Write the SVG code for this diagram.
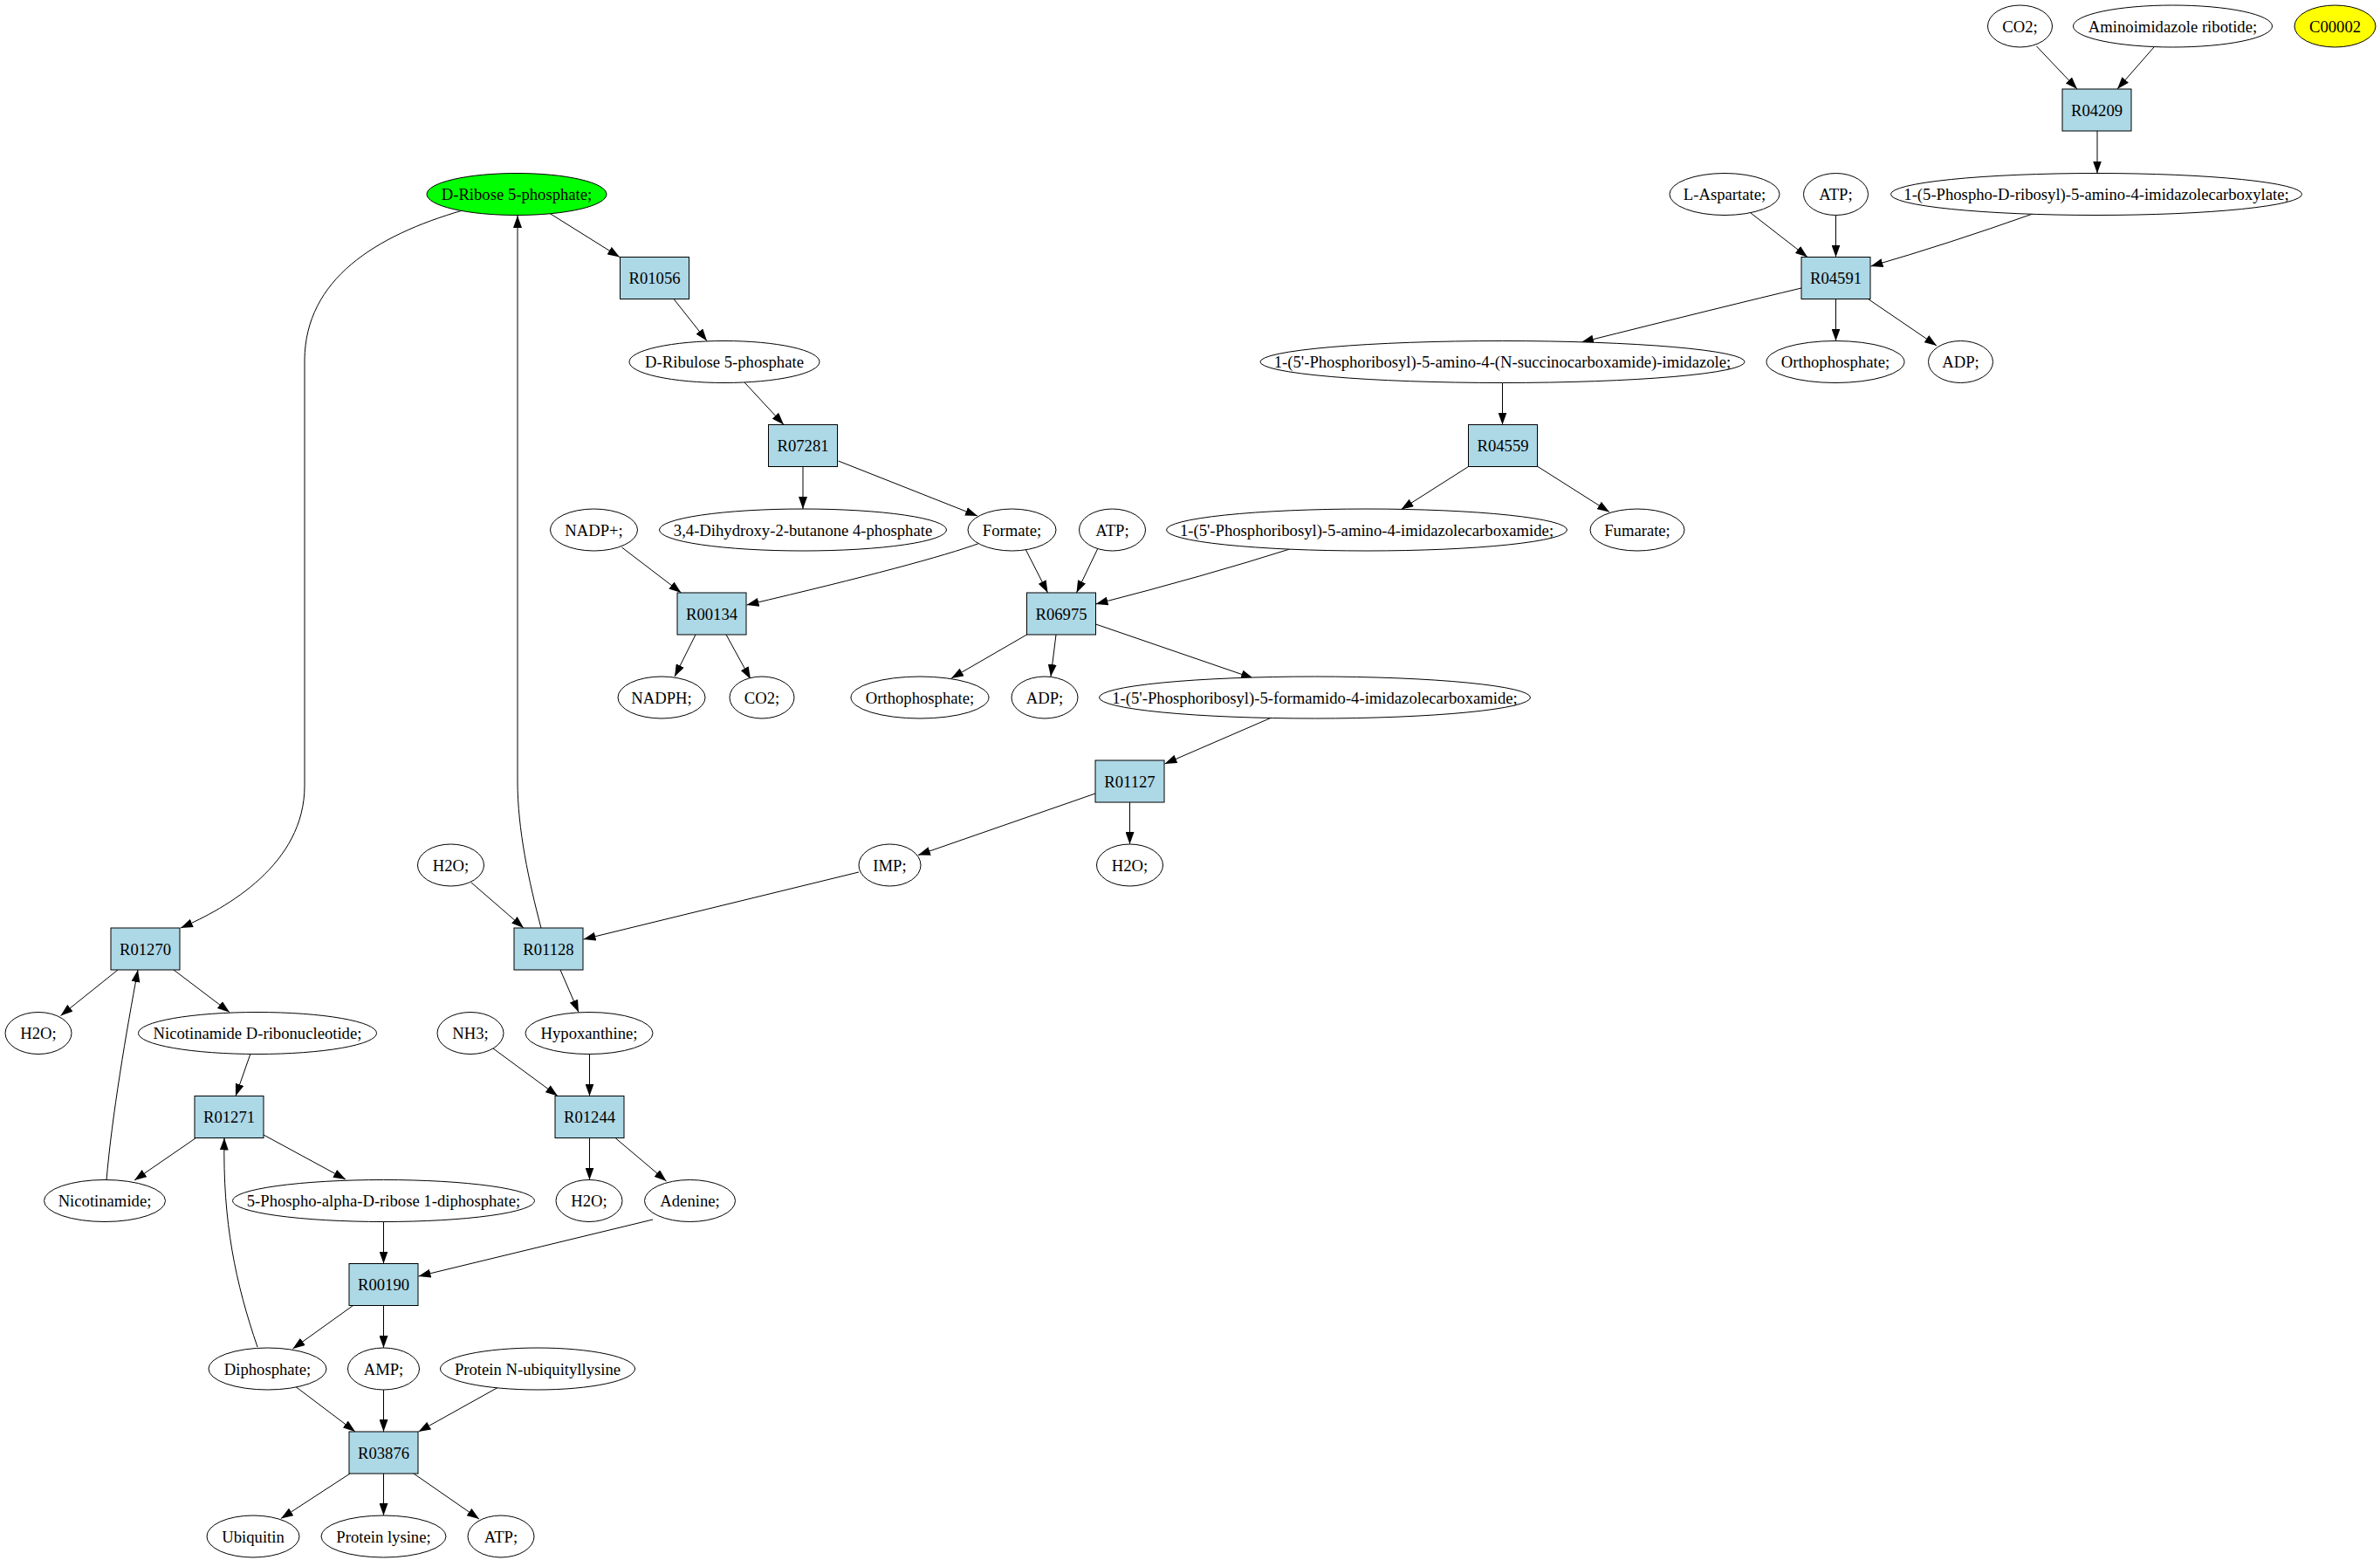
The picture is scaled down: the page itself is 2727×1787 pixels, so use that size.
<svg xmlns="http://www.w3.org/2000/svg" width="2727" height="1787" viewBox="0 0 2727 1787">
<defs>
<marker id="arr" markerUnits="userSpaceOnUse" markerWidth="14" markerHeight="10" refX="14" refY="5" orient="auto"><path d="M0,0 L14,5 L0,10 z" fill="#000"/></marker>
</defs>
<style>
ellipse{fill:#fff;stroke:#000;stroke-width:1}
rect{fill:#add8e6;stroke:#000;stroke-width:1}
text{font-family:"Liberation Serif","Times New Roman",serif;font-size:18.67px;text-anchor:middle;fill:#000}
#edges path{fill:none;stroke:#000;stroke-width:1;marker-end:url(#arr)}
</style>
<rect x="0" y="0" width="2727" height="1787" style="fill:#fff;stroke:none"/>
<g id="edges">
<path d="M2333.5,53 L2380,102"/>
<path d="M2468,54 L2426,102"/>
<path d="M2403,150 L2403,198.5"/>
<path d="M2006,244 L2071,294.5"/>
<path d="M2103.5,246.5 L2103.5,294.5"/>
<path d="M2329,245 Q2230,280 2143.5,305"/>
<path d="M2064,330 Q1980,350 1812,392"/>
<path d="M2103.5,342.5 L2103.5,390.5"/>
<path d="M2140.5,342.5 L2219,396"/>
<path d="M1721.5,438.5 L1721.5,486.5"/>
<path d="M1682.5,534.5 L1605.5,583.5"/>
<path d="M1762,534.5 L1844,586.5"/>
<path d="M630,244.5 L710,294.5"/>
<path d="M772,342.5 L810,390.5"/>
<path d="M853,438 L898,486.5"/>
<path d="M920,534.5 L920,583"/>
<path d="M960.5,528 L1120,591"/>
<path d="M712.5,627 L780.5,679"/>
<path d="M1123,622 Q1060,645 855.5,693"/>
<path d="M1175,629 L1200.5,679"/>
<path d="M1258,628 L1233.5,679"/>
<path d="M1481,628 Q1380,660 1255.5,692"/>
<path d="M797,727 L773,775"/>
<path d="M832,727 L860,778"/>
<path d="M1176.5,727 L1090,777"/>
<path d="M1210,727 L1204,775"/>
<path d="M1255.5,715 L1436,777"/>
<path d="M1457,822 L1334.5,875"/>
<path d="M1255,909 L1052,979.5"/>
<path d="M1294.5,919 L1294.5,967"/>
<path d="M984,999 L668.5,1076"/>
<path d="M540,1011 L600,1063"/>
<path d="M620,1063 C606,1010 593,950 593,895 L593,247"/>
<path d="M530,241 C430,270 350,320 349,412 L349,900 C349,990 260,1040 207,1063"/>
<path d="M642,1111 L663,1159.5"/>
<path d="M135,1111 L69.5,1163.5"/>
<path d="M199,1111 L263,1159.5"/>
<path d="M122,1352 C128,1280 145,1180 158,1111"/>
<path d="M287,1207 L270,1255.5"/>
<path d="M224.5,1303.5 L154,1352"/>
<path d="M302,1300 L396,1351"/>
<path d="M295,1543 C270,1470 255,1400 257,1303.5"/>
<path d="M565,1201 L639,1255.5"/>
<path d="M675.5,1207.5 L675.5,1255.5"/>
<path d="M675.5,1303.5 L675.5,1351.5"/>
<path d="M705,1303.5 L763.5,1353"/>
<path d="M439.5,1399 L439.5,1447.5"/>
<path d="M748,1397 L479.5,1462"/>
<path d="M404.5,1495.5 L335.5,1545"/>
<path d="M439.5,1495.5 L439.5,1544"/>
<path d="M337.5,1587.5 L407,1640"/>
<path d="M439.5,1592 L439.5,1640"/>
<path d="M572,1588.5 L479.5,1640"/>
<path d="M401,1688 L322,1739.5"/>
<path d="M439.5,1688 L439.5,1736"/>
<path d="M474,1688 L549,1740"/>
</g>
<g id="n_co2_a"><ellipse cx="2314.5" cy="30" rx="37" ry="24"/><text x="2314.5" y="36.5">CO2;</text></g>
<g id="n_air"><ellipse cx="2489.5" cy="30" rx="114" ry="24"/><text x="2489.5" y="36.5">Aminoimidazole ribotide;</text></g>
<g id="n_c00002"><ellipse cx="2675.5" cy="30" rx="46.5" ry="24" style="fill:#ffff00"/><text x="2675.5" y="36.5">C00002</text></g>
<g id="r_R04209"><rect x="2363" y="102" width="79" height="48"/><text x="2402.5" y="132.5">R04209</text></g>
<g id="n_ribose5p"><ellipse cx="592" cy="222.5" rx="103" ry="24" style="fill:#00ff00"/><text x="592" y="229">D-Ribose 5-phosphate;</text></g>
<g id="n_asp"><ellipse cx="1976" cy="222.5" rx="63" ry="24"/><text x="1976" y="229">L-Aspartate;</text></g>
<g id="n_atp_a"><ellipse cx="2103.5" cy="222.5" rx="37" ry="24"/><text x="2103.5" y="229">ATP;</text></g>
<g id="n_cair"><ellipse cx="2402" cy="222.5" rx="235.5" ry="24"/><text x="2402" y="229">1-(5-Phospho-D-ribosyl)-5-amino-4-imidazolecarboxylate;</text></g>
<g id="r_R01056"><rect x="710.5" y="294.5" width="79" height="48"/><text x="750" y="325">R01056</text></g>
<g id="r_R04591"><rect x="2064" y="294.5" width="79" height="48"/><text x="2103.5" y="325">R04591</text></g>
<g id="n_ribulose5p"><ellipse cx="830" cy="414.5" rx="109" ry="24"/><text x="830" y="421">D-Ribulose 5-phosphate</text></g>
<g id="n_saicar"><ellipse cx="1721.5" cy="414.5" rx="277.5" ry="24"/><text x="1721.5" y="421">1-(5'-Phosphoribosyl)-5-amino-4-(N-succinocarboxamide)-imidazole;</text></g>
<g id="n_pi_a"><ellipse cx="2103" cy="414.5" rx="79" ry="24"/><text x="2103" y="421">Orthophosphate;</text></g>
<g id="n_adp_a"><ellipse cx="2246.5" cy="414.5" rx="37" ry="24"/><text x="2246.5" y="421">ADP;</text></g>
<g id="r_R07281"><rect x="880.5" y="486.5" width="79" height="48"/><text x="920" y="517">R07281</text></g>
<g id="r_R04559"><rect x="1682.5" y="486.5" width="79" height="48"/><text x="1722" y="517">R04559</text></g>
<g id="n_nadp"><ellipse cx="680.5" cy="607" rx="50" ry="24"/><text x="680.5" y="613.5">NADP+;</text></g>
<g id="n_dhbp"><ellipse cx="920" cy="607" rx="164.5" ry="24"/><text x="920" y="613.5">3,4-Dihydroxy-2-butanone 4-phosphate</text></g>
<g id="n_formate"><ellipse cx="1159.5" cy="607" rx="50.5" ry="24"/><text x="1159.5" y="613.5">Formate;</text></g>
<g id="n_atp_b"><ellipse cx="1274.5" cy="607" rx="38" ry="24"/><text x="1274.5" y="613.5">ATP;</text></g>
<g id="n_aicar"><ellipse cx="1566" cy="607" rx="229.5" ry="24"/><text x="1566" y="613.5">1-(5'-Phosphoribosyl)-5-amino-4-imidazolecarboxamide;</text></g>
<g id="n_fumarate"><ellipse cx="1876" cy="607" rx="54" ry="24"/><text x="1876" y="613.5">Fumarate;</text></g>
<g id="r_R00134"><rect x="776" y="679" width="79" height="48"/><text x="815.5" y="709.5">R00134</text></g>
<g id="r_R06975"><rect x="1176.5" y="679" width="79" height="48"/><text x="1216" y="709.5">R06975</text></g>
<g id="n_nadph"><ellipse cx="758" cy="799" rx="50" ry="24"/><text x="758" y="805.5">NADPH;</text></g>
<g id="n_co2_b"><ellipse cx="873" cy="799" rx="37" ry="24"/><text x="873" y="805.5">CO2;</text></g>
<g id="n_pi_b"><ellipse cx="1054" cy="799" rx="79" ry="24"/><text x="1054" y="805.5">Orthophosphate;</text></g>
<g id="n_adp_b"><ellipse cx="1197" cy="799" rx="38" ry="24"/><text x="1197" y="805.5">ADP;</text></g>
<g id="n_faicar"><ellipse cx="1506.5" cy="799" rx="247" ry="24"/><text x="1506.5" y="805.5">1-(5'-Phosphoribosyl)-5-formamido-4-imidazolecarboxamide;</text></g>
<g id="r_R01127"><rect x="1255" y="871" width="79" height="48"/><text x="1294.5" y="901.5">R01127</text></g>
<g id="n_h2o_a"><ellipse cx="516.5" cy="991" rx="38" ry="24"/><text x="516.5" y="997.5">H2O;</text></g>
<g id="n_imp"><ellipse cx="1019.5" cy="991" rx="35.5" ry="24"/><text x="1019.5" y="997.5">IMP;</text></g>
<g id="n_h2o_b"><ellipse cx="1294.5" cy="991" rx="38" ry="24"/><text x="1294.5" y="997.5">H2O;</text></g>
<g id="r_R01270"><rect x="127" y="1063" width="79" height="48"/><text x="166.5" y="1093.5">R01270</text></g>
<g id="r_R01128"><rect x="589" y="1063" width="79" height="48"/><text x="628.5" y="1093.5">R01128</text></g>
<g id="n_h2o_c"><ellipse cx="44" cy="1183.5" rx="38" ry="24"/><text x="44" y="1190">H2O;</text></g>
<g id="n_nmn"><ellipse cx="295" cy="1183.5" rx="136.5" ry="24"/><text x="295" y="1190">Nicotinamide D-ribonucleotide;</text></g>
<g id="n_nh3"><ellipse cx="539" cy="1183.5" rx="38" ry="24"/><text x="539" y="1190">NH3;</text></g>
<g id="n_hypox"><ellipse cx="675" cy="1183.5" rx="73" ry="24"/><text x="675" y="1190">Hypoxanthine;</text></g>
<g id="r_R01271"><rect x="223" y="1255.5" width="79" height="48"/><text x="262.5" y="1286">R01271</text></g>
<g id="r_R01244"><rect x="636" y="1255.5" width="79" height="48"/><text x="675.5" y="1286">R01244</text></g>
<g id="n_nicotinamide"><ellipse cx="120" cy="1375.5" rx="69.5" ry="24"/><text x="120" y="1382">Nicotinamide;</text></g>
<g id="n_prpp"><ellipse cx="439.5" cy="1375.5" rx="173" ry="24"/><text x="439.5" y="1382">5-Phospho-alpha-D-ribose 1-diphosphate;</text></g>
<g id="n_h2o_d"><ellipse cx="675" cy="1375.5" rx="38" ry="24"/><text x="675" y="1382">H2O;</text></g>
<g id="n_adenine"><ellipse cx="790.5" cy="1375.5" rx="52" ry="24"/><text x="790.5" y="1382">Adenine;</text></g>
<g id="r_R00190"><rect x="400" y="1447.5" width="79" height="48"/><text x="439.5" y="1478">R00190</text></g>
<g id="n_ppi"><ellipse cx="306.5" cy="1568" rx="67.5" ry="24"/><text x="306.5" y="1574.5">Diphosphate;</text></g>
<g id="n_amp"><ellipse cx="439.5" cy="1568" rx="41" ry="24"/><text x="439.5" y="1574.5">AMP;</text></g>
<g id="n_pnul"><ellipse cx="616" cy="1568" rx="111.5" ry="24"/><text x="616" y="1574.5">Protein N-ubiquityllysine</text></g>
<g id="r_R03876"><rect x="400" y="1640" width="79" height="48"/><text x="439.5" y="1670.5">R03876</text></g>
<g id="n_ubiquitin"><ellipse cx="290" cy="1760" rx="53" ry="24"/><text x="290" y="1766.5">Ubiquitin</text></g>
<g id="n_plys"><ellipse cx="439.5" cy="1760" rx="71.5" ry="24"/><text x="439.5" y="1766.5">Protein lysine;</text></g>
<g id="n_atp_c"><ellipse cx="574" cy="1760" rx="38" ry="24"/><text x="574" y="1766.5">ATP;</text></g>
</svg>
